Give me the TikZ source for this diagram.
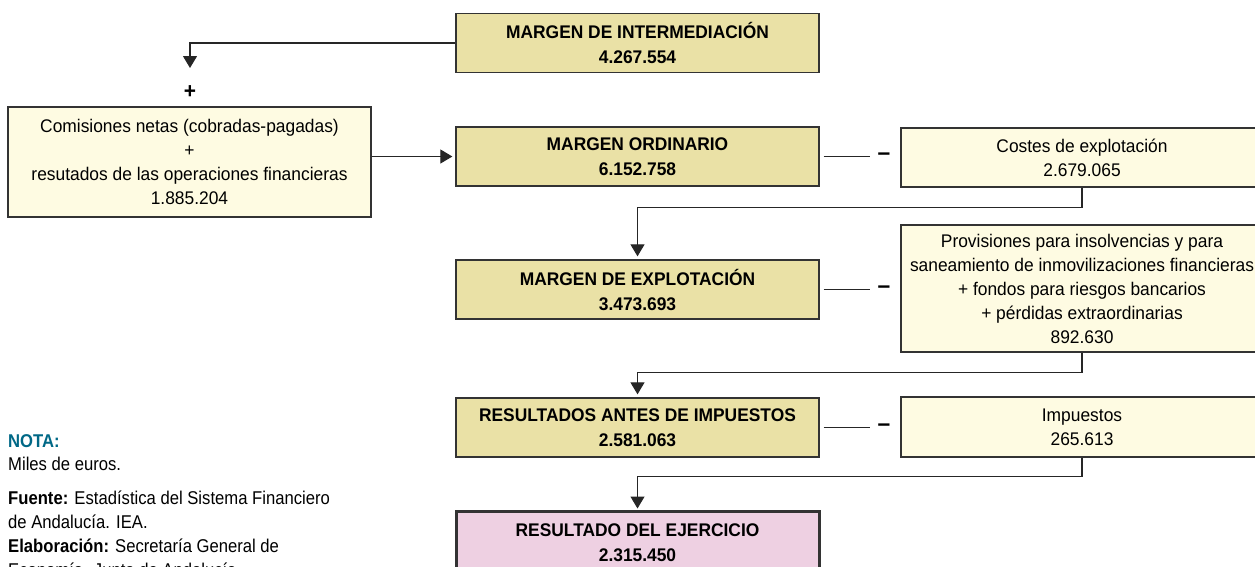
\documentclass[tikz,border=0pt]{standalone}
\usepackage{fontspec}
\setmainfont{Liberation Sans}[FakeStretch=0.95]
\newfontfamily\notefont{Liberation Sans}[FakeStretch=0.9]
\usetikzlibrary{arrows.meta,calc}
\definecolor{tanfill}{RGB}{234,225,166}
\definecolor{creamfill}{RGB}{254,251,226}
\definecolor{pinkfill}{RGB}{238,208,226}
\definecolor{notateal}{RGB}{0,104,134}
\definecolor{edgegray}{RGB}{51,51,51}
\begin{document}
\begin{tikzpicture}[x=1pt,y=-1pt,
  mainbox/.style={draw=edgegray,line width=1.3pt,fill=tanfill,minimum width=363pt,minimum height=59pt,inner sep=0pt,align=center,font=\bfseries\fontsize{18.3}{25}\selectfont},
  lightbox/.style={draw=edgegray,line width=1.1pt,fill=creamfill,minimum width=362pt,inner sep=0pt,align=center,font=\fontsize{18.3}{24}\selectfont},
  conn/.style={draw=black!85,line width=1.1pt},
  arr/.style={conn,-{Triangle[width=14pt,length=12pt]}},
  minussign/.style={inner xsep=7.7pt,inner ysep=0pt,font=\bfseries\fontsize{24}{24}\selectfont},
  plussign/.style={inner sep=0pt,font=\bfseries\fontsize{22}{22}\selectfont},
  notetext/.style={anchor=base west,inner sep=0pt,font=\notefont\fontsize{18.5}{20}\selectfont}]
\useasboundingbox (0,0) rectangle (1255,566);
\clip (0,0) rectangle (1255,566);

% main column
\node[mainbox] (mi) at (637.5,43) {MARGEN DE INTERMEDIACIÓN\\4.267.554};
\node[mainbox] (mo) at (637.5,156.5) {MARGEN ORDINARIO\\6.152.758};
\node[mainbox] (mex) at (637.5,289.5) {MARGEN DE EXPLOTACIÓN\\3.473.693};
\node[mainbox] (rai) at (637.5,427.5) {RESULTADOS ANTES DE IMPUESTOS\\2.581.063};
\node[mainbox,fill=pinkfill,line width=3pt,minimum height=64pt] (rde) at (637.5,543) {RESULTADO DEL EJERCICIO\\2.315.450};

% left box
\node[lightbox,minimum width=363pt,minimum height=110pt] (com) at (189.5,162) {Comisiones netas (cobradas-pagadas)\\+\\resutados de las operaciones financieras\\1.885.204};
\node[plussign] (plus) at (190,92) {+};
\coordinate (c1) at (190,68);

% right boxes
\node[lightbox,minimum height=59pt] (cost) at (1082,157.5) {Costes de explotación\\2.679.065};
\node[lightbox,minimum height=127pt] (prov) at (1082,288.5) {Provisiones para insolvencias y para\\saneamiento de inmovilizaciones financieras\\+ fondos para riesgos bancarios\\+ pérdidas extraordinarias\\892.630};
\node[lightbox,minimum height=60pt] (imp) at (1082,427) {Impuestos\\265.613};

% minus signs
\node[minussign] (m1) at (884,156.5) {–};
\node[minussign] (m2) at (884,289.5) {–};
\node[minussign] (m3) at (884,427.5) {–};

% connectors
\draw[arr] (mi.west) -| (c1);
\draw[arr,shorten >=3pt] (com.east |- mo.west) -- (mo.west);
\draw[conn] ([xshift=4pt]mo.east) -- (m1.west |- mo.east);
\draw[conn] ([xshift=4pt]mex.east) -- (m2.west |- mex.east);
\draw[conn] ([xshift=4pt]rai.east) -- (m3.west |- rai.east);
\draw[arr,shorten >=3pt] (cost.south) -- ++(0,20) -| (mex.north);
\draw[arr,shorten >=3pt] (prov.south) -- ++(0,20) -| (rai.north);
\draw[arr,shorten >=1pt] (imp.south) -- ++(0,19) -| (rde.north);

% notes
\node[notetext,text=notateal] (n1) at (8,447) {\bfseries NOTA:};
\node[notetext] (n2) at (8,470) {Miles de euros.};
\node[notetext] (n3) at (8,504) {\bfseries Fuente:\mdseries{} Estadística del Sistema Financiero};
\node[notetext] (n4) at (8,528) {de Andalucía. IEA.};
\node[notetext] (n5) at (8,552) {\bfseries Elaboración:\mdseries{} Secretaría General de};
\node[notetext] (n6) at (8,576) {Economía. Junta de Andalucía.};
\end{tikzpicture}
\end{document}
